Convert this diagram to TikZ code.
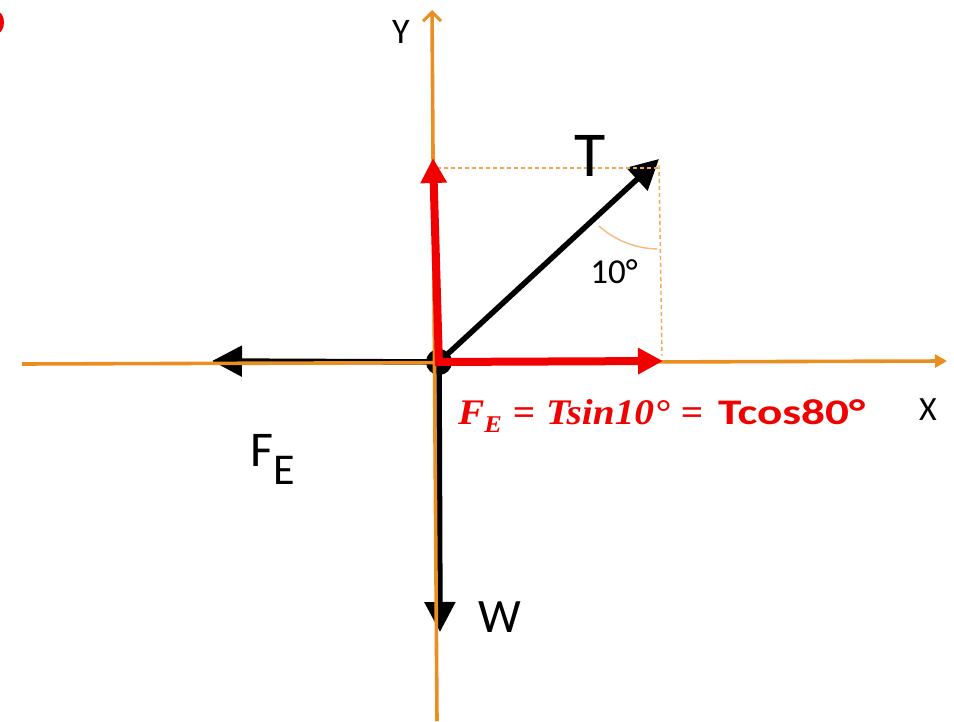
\documentclass[tikz,border=0pt]{standalone}
\usepackage{graphicx}
\usepackage{fontspec}
\setmainfont{Carlito}
\newfontfamily\eqserif{Liberation Serif}
\usetikzlibrary{arrows.meta}
\definecolor{axisor}{RGB}{234,142,34}
\definecolor{dashor}{RGB}{242,165,80}
\definecolor{arcor}{RGB}{245,185,125}
\definecolor{eqred}{RGB}{240,0,0}
\newcommand\eqitalic{\eqserif\bfseries\itshape F\raisebox{-8pt}{\fontsize{24}{24}\selectfont E}\hspace{10pt}{\upshape =}\hspace{10pt}Tsin10°\hspace{10pt}{\upshape =}}
\newcommand\eqtext{\resizebox{245pt}{\height}{\eqitalic}\hspace{15pt}\resizebox{147pt}{\height}{\bfseries Tcos80°}}
\newcommand\felabel{F\raisebox{-18pt}{\fontsize{44}{44}\selectfont E}}
\tikzset{
  axisline/.style={axisor, line width=3.6pt},
  redvec/.style={eqred, line width=8pt, -{Triangle[length=25pt,width=25pt]}},
  blackvec/.style={black, line width=5.5pt, -{Triangle[length=30pt,width=30pt]}},
  guide/.style={dashor, line width=1.4pt, dash pattern=on 4pt off 3pt},
  lbl/.style={inner sep=0pt, black}
}
\begin{document}
\begin{tikzpicture}[x=1pt,y=1pt]
\useasboundingbox (0,0) rectangle (954,721);
\clip (0,0) rectangle (954,721);
% corner fragment
\fill[eqred] (-3,698.5) ellipse [x radius=7, y radius=11];
% points
\coordinate (O) at (439,359);
\coordinate (Tt) at (659,562);
\coordinate (Ru) at (433,563);
\coordinate (Rr) at (663,360);
\coordinate (Lt) at (212,360);
\coordinate (Wt) at (440,89);
\coordinate (Yb) at (437,0);
\coordinate (Yt) at (432,711);
\coordinate (Xl) at (22,357);
\coordinate (Xr) at (947,360);
\coordinate (Dh) at (437,553);
\coordinate (Dc) at (658,553);
\coordinate (Dv) at (662,365);
% black vectors
\draw[blackvec] (O) -- (Lt);
\draw[blackvec] (O) -- (Wt);
\draw[blackvec] (O) -- (Tt);
\fill[black] (O) circle [radius=13];
% axes
\draw[axisline, -{Straight Barb[length=9pt,width=18pt,line width=3pt]}] (Yb) -- (Yt);
\draw[axisline, -{Triangle[length=12pt,width=13pt]}] (Xl) -- (Xr);
% guides
\draw[guide] (Dh) -- (Dc);
\draw[guide] ([yshift=-6pt]Tt) -- (Dv);
\draw[arcor, line width=1.4pt] ([shift={(228:90pt)}]Tt) arc[start angle=228, end angle=269, radius=90pt];
% red components
\draw[redvec] ([yshift=-4pt]O) -- (Ru);
\draw[redvec] ([xshift=-4pt]O) -- (Rr);
% labels
\node[lbl, font=\fontsize{36}{36}\selectfont] (ylab) at (401,689) {Y};
\node[lbl, font=\fontsize{34}{34}\selectfont] (xlab) at (928,311) {X};
\node[lbl, font=\fontsize{64}{64}\selectfont] (tlab) at (590,565) {T};
\node[lbl, font=\fontsize{35}{35}\selectfont] (alab) at (614,449) {10°};
\node[lbl, font=\fontsize{48}{48}\selectfont] (wlab) at (500,104) {W};
\node[lbl, font=\fontsize{50}{50}\selectfont, anchor=base west] (flab) at (250,254) {\felabel};
\node[lbl, text=eqred, font=\fontsize{36}{36}\selectfont, anchor=base west] (eq) at (458,296) {\eqtext};
\end{tikzpicture}
\end{document}
